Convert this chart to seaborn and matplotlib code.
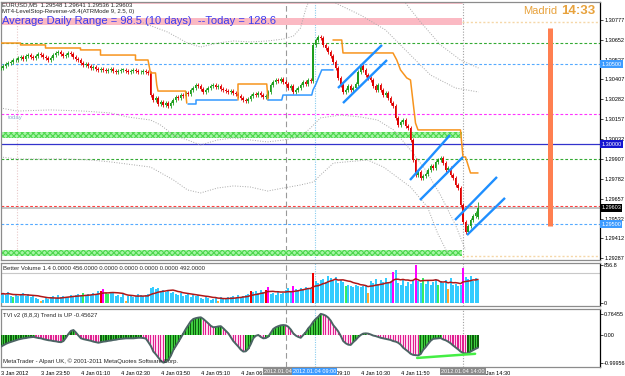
import numpy as np
import pandas as pd
import matplotlib
matplotlib.use("Agg")
import matplotlib.pyplot as plt
import matplotlib.transforms as mtransforms
import seaborn as sns

# ------------------------------------------------------------------
# DATA (EURUSD M5, 3-4 Jan 2012)
# ------------------------------------------------------------------
closes = [1.30477, 1.30490, 1.30502, 1.30508, 1.30515, 1.30527, 1.30527,
          1.30540, 1.30546, 1.30533, 1.30552, 1.30558, 1.30546, 1.30540, 1.30552, 1.30565, 1.30558, 1.30546, 1.30540, 1.30527,
          1.30540, 1.30558, 1.30571, 1.30577, 1.30565, 1.30552, 1.30558, 1.30571, 1.30565, 1.30546, 1.30533, 1.30527,
          1.30508, 1.30496, 1.30502, 1.30490, 1.30477, 1.30483, 1.30471, 1.30465,
          1.30471, 1.30465, 1.30458, 1.30465, 1.30471, 1.30458, 1.30452, 1.30458, 1.30465, 1.30465, 1.30458, 1.30452,
          1.30458, 1.30465, 1.30458, 1.30452, 1.30452, 1.30458, 1.30452,
          1.30446, 1.30308,
          1.30277, 1.30290, 1.30252, 1.30265, 1.30246, 1.30258, 1.30240,
          1.30258, 1.30277, 1.30296, 1.30290, 1.30308,
          1.30302, 1.30321, 1.30315, 1.30340, 1.30352, 1.30371, 1.30365,
          1.30346, 1.30327, 1.30340, 1.30352,
          1.30365, 1.30371, 1.30358, 1.30365,
          1.30346, 1.30340, 1.30333, 1.30327, 1.30333, 1.30321, 1.30315, 1.30302,
          1.30290, 1.30277, 1.30271, 1.30283,
          1.30302, 1.30315, 1.30308, 1.30321,
          1.30308, 1.30296, 1.30302, 1.30327,
          1.30371, 1.30390, 1.30402,
          1.30396, 1.30408, 1.30390, 1.30377, 1.30352, 1.30365,
          1.30327, 1.30340, 1.30352,
          1.30371, 1.30390, 1.30377, 1.30402, 1.30396,
          1.30621,
          1.30652, 1.30671, 1.30665,
          1.30621, 1.30602, 1.30577, 1.30552,
          1.30515, 1.30477,
          1.30415, 1.30371, 1.30327, 1.30340,
          1.30365, 1.30340, 1.30352, 1.30377,
          1.30452, 1.30490, 1.30465,
          1.30433, 1.30415, 1.30402,
          1.30365, 1.30340, 1.30371,
          1.30340, 1.30308, 1.30321,
          1.30290, 1.30258, 1.30240,
          1.30165, 1.30121, 1.30140,
          1.30152, 1.30115, 1.30102,
          1.30027, 1.29902,
          1.29808, 1.29827, 1.29790, 1.29802,
          1.29815, 1.29840, 1.29865, 1.29852,
          1.29890, 1.29902, 1.29915, 1.29883,
          1.29840, 1.29852, 1.29808,
          1.29790, 1.29746, 1.29727, 1.29621, 1.29515, 1.29452, 1.29490, 1.29527, 1.29552, 1.29571, 1.29603]
last_ohlc = [1.29548, 1.29641, 1.29536, 1.29603]
wick = 0.00010

# LevelStop-Reverse segments (bar index, price)
orange1_x = [0, 8, 8, 18, 18, 32, 32, 40, 40, 54, 54, 59, 60, 62, 62.5, 63, 74, 74.5]
orange1_y = [1.30633, 1.30633, 1.30621, 1.30621, 1.30602, 1.30602, 1.30590, 1.30590, 1.30558, 1.30558,
             1.30527, 1.30527, 1.30446, 1.30446, 1.30371, 1.30333, 1.30333, 1.30258]
blue1_x = [75, 78, 78, 94.5]
blue1_y = [1.30252, 1.30252, 1.30277, 1.30277]
orange2_x = [95, 95, 106.5, 107]
orange2_y = [1.30277, 1.30377, 1.30377, 1.30277]
blue2_x = [107, 112.5, 113, 124.5, 125, 126, 128.5, 133]
blue2_y = [1.30277, 1.30277, 1.30308, 1.30308, 1.30340, 1.30371, 1.30465, 1.30465]
orange3_x = [133, 136.5, 137, 157, 158.5, 160, 162.5, 164, 166, 167, 184, 185, 186, 188, 191]
orange3_y = [1.30652, 1.30652, 1.30571, 1.30571, 1.30527, 1.30465, 1.30415, 1.30402, 1.30133, 1.30090,
             1.30090, 1.29921, 1.29921, 1.29821, 1.29821]

# hand drawn trend channels
chan_x = [[135, 152.6], [137, 154.6], [163.8, 179.8], [167.8, 185], [181.8, 198.6], [186.6, 201.8]]
chan_y = [[1.30352, 1.30621], [1.30258, 1.30527], [1.29777, 1.30058], [1.29652, 1.29921],
          [1.29527, 1.29796], [1.29433, 1.29665]]

# dotted grey envelope curves
env_u1_x = [56, 66.8, 74.8, 80, 86.8, 93.2, 100, 106.8, 113.2, 117.2, 120, 122, 123.2]
env_u1_y = [1.30765, 1.30702, 1.30633, 1.30608, 1.30633, 1.30646, 1.30640, 1.30646, 1.30658, 1.30677,
            1.30727, 1.30840, 1.30890]
env_u2_x = [134, 144, 154, 164, 172, 182, 191.2]
env_u2_y = [1.30883, 1.30808, 1.30715, 1.30558, 1.30433, 1.30352, 1.30327]
env_u3_x = [162, 168, 176, 184, 191.2]
env_u3_y = [1.30883, 1.30765, 1.30621, 1.30527, 1.30477]
env_l1_x = [0, 6.8, 20, 33.2, 44, 50.8, 60, 64, 69.2, 74.8, 80, 86.8, 93.2, 100, 106.8, 113.2, 120, 124,
            128, 136, 144, 150.8, 157.2, 164, 170, 176, 182, 186]
env_l1_y = [1.30227, 1.30208, 1.30215, 1.30208, 1.30196, 1.30171, 1.30152, 1.30121, 1.30058, 1.30027,
            1.29996, 1.30027, 1.30040, 1.30027, 1.30015, 1.30027, 1.30046, 1.30102, 1.30165, 1.30183,
            1.30171, 1.30152, 1.30090, 1.29965, 1.29840, 1.29683, 1.29496, 1.29340]
env_l2_x = [0, 6.8, 26.8, 36, 44, 60, 69.2, 74.8, 80, 86.8, 93.2, 100, 106.8, 113.2, 120, 125.2, 128,
            133.2, 146.8, 153.2, 164, 170.8, 174.8, 178.8]
env_l2_y = [1.29921, 1.29908, 1.29908, 1.29902, 1.29890, 1.29858, 1.29777, 1.29715, 1.29696, 1.29727,
            1.29740, 1.29733, 1.29708, 1.29727, 1.29746, 1.29765, 1.29808, 1.29883, 1.29902, 1.29858,
            1.29733, 1.29608, 1.29446, 1.29321]

# horizontal levels
level_prices = [1.30631, 1.30500, 1.30190, 1.30000, 1.29908, 1.29615, 1.29500]
level_colors = ["#33AA33", "#55AAFF", "#FF33FF", "#3333CC", "#33AA33", "#FF4040", "#55AAFF"]
level_solid = [False, False, False, True, False, False, False]
bid_price = 1.29603
pink_band = [1.30746, 1.30790]
green_bands = [[1.30040, 1.30077], [1.29302, 1.29340]]
wheat_levels = [1.30767, 1.29302]
bands_end = 184.6
range_bar_x = 219.8
range_bar_y = [1.29490, 1.30727]

# vertical lines (bar index)
vline_x = [6.6, 114, 125.6, 185]
vline_colors = ["#E8C8C8", "#999999", "#88CCEE", "#A0A0A0"]
vline_styles = [(0, (1, 1.5)), (0, (5, 3)), (0, (1, 1.2)), (0, (1, 1.5))]
vbox_x = [114, 125.6, 185]
vbox_text = ["2012.01.04 08:00", "2012.01.04 09:00", "2012.01.04 14:00"]
vbox_colors = ["#8A8A8A", "#3D9BFF", "#8A8A8A"]

price_ticks = [1.30777, 1.30652, 1.30527, 1.30407, 1.30282, 1.30157, 1.30032,
               1.29907, 1.29782, 1.29657, 1.29532, 1.29412, 1.29287]
highlight_prices = [1.30500, 1.30000, 1.29603, 1.29500]
highlight_colors = ["#3D9BFF", "#1515D0", "#000000", "#3D9BFF"]

# labels fully hidden under the vertical-line boxes are left out
time_ticks = [0, 16, 32, 48, 64, 80, 96, 128, 144, 160, 192]
time_labels = ["3 Jan 2012", "3 Jan 23:50", "4 Jan 01:10", "4 Jan 02:30", "4 Jan 03:50", "4 Jan 05:10",
               "4 Jan 06:30", "4 Jan 09:10", "4 Jan 10:30", "4 Jan 11:50", "4 Jan 14:30"]

# Better Volume
volumes = [200, 225, 180, 250, 160, 135, 180, 160, 180, 225, 160, 200, 135, 180,
           110, 90, 45, 70, 110, 90,
           135, 160, 110, 180, 135, 160, 110, 135, 180, 160,
           180, 200, 160, 225, 180, 200, 180, 225, 200, 270,
           270, 315, 225, 200, 250, 225,
           160, 180, 135, 200, 45, 160, 180, 135, 160, 200, 180, 160, 180, 200,
           340, 360, 315, 340, 270, 290, 250, 270, 225, 250,
           200, 180, 225, 160, 180, 200, 135, 180, 160, 180,
           110, 90, 135, 110, 70, 90, 110, 45, 135, 110, 90, 135,
           135, 160, 110, 180, 135, 160, 180, 200,
           270, 250, 270, 225, 290, 250, 290, 360,
           200, 225, 180, 250, 200, 225, 290, 340, 270, 385, 315, 290,
           340, 315, 360, 340, 315, 675, 495, 450, 520,
           540, 470, 610, 560, 495, 585, 450, 520, 470, 385, 405,
           385, 360, 405, 385, 360, 385, 405, 225,
           495, 450, 540, 430, 520, 470, 560, 450, 495, 700, 745,
           450, 405, 520, 385, 470, 430, 495, 856.8,
           495, 450, 560, 430, 520, 405, 470, 540, 405, 495, 450, 520, 315,
           560, 405, 430, 385, 405, 790, 585, 540, 610, 495, 560, 520]
vol_green = [5, 33, 42, 43, 138, 169, 175]
vol_orange = [16, 50, 87, 147, 179]
vol_red = [40, 100, 106, 125]
vol_magenta = [41, 107, 117, 157, 166, 185]
vol_level = 675
vol_ticks = [0, 856.8]

# TVI histogram
tvi = [-0.42, -0.37, -0.32, -0.28, -0.25, -0.22, -0.19, -0.16, -0.14, -0.12, -0.11, -0.09, -0.08, -0.07,
       -0.09, -0.11, -0.12, -0.15, -0.17, -0.19, -0.20, -0.22, -0.23, -0.25, -0.26,
       -0.22, -0.10, 0.04, 0.15, 0.18,
       0.09, -0.02, -0.12, -0.15, -0.17, -0.19, -0.21, -0.24, -0.26, -0.28,
       -0.26, -0.24, -0.23, -0.21, -0.20, -0.18, -0.17, -0.15, -0.14, -0.13, -0.12, -0.12, -0.12, -0.12,
       -0.11, -0.10, -0.10, -0.11, -0.13,
       -0.26, -0.40, -0.60, -0.70, -0.82, -0.93, -0.99956,
       -0.97, -0.90, -0.75, -0.54, -0.40, -0.25, -0.10, 0.06, 0.22, 0.36, 0.50, 0.58, 0.61, 0.63, 0.64,
       0.58, 0.50, 0.42, 0.33, 0.28,
       0.29, 0.31, 0.32,
       0.24, 0.15, 0.06, -0.08, -0.22, -0.32, -0.42, -0.53, -0.60,
       -0.59,
       -0.50, -0.33, -0.12, -0.03, 0.00,
       -0.07, -0.12,
       -0.11, -0.06, 0.08, 0.22, 0.28, 0.32, 0.35, 0.36,
       0.35, 0.30, 0.20, 0.06, -0.02, -0.07, -0.10,
       0.00, 0.10, 0.24, 0.34, 0.48, 0.58, 0.66, 0.76455,
       0.74, 0.70, 0.63, 0.52, 0.36, 0.25, 0.13, -0.03, -0.22, -0.30, -0.35, -0.36,
       -0.26, -0.18, -0.08, 0.00, 0.05, 0.06,
       0.05, 0.02, -0.02, -0.04, -0.07, -0.10, -0.12, -0.14, -0.16, -0.18, -0.22, -0.24, -0.28, -0.35,
       -0.46, -0.53, -0.60, -0.68, -0.72, -0.73, -0.74,
       -0.69, -0.54, -0.44, -0.32, -0.21, -0.14, -0.13, -0.12, -0.11,
       -0.16, -0.19, -0.24, -0.30, -0.38, -0.45, -0.52, -0.60, -0.65, -0.67,
       -0.66, -0.60, -0.55, -0.50, -0.45627]
div_x = [166.6, 189.8]
div_y = [-0.83, -0.68]
tvi_ticks = [0.76455, 0.0, -0.99956]
tvi_ticklabels = ["0.76455", "0.00", "-0.99956"]

# ------------------------------------------------------------------
# STYLE
# ------------------------------------------------------------------
sns.set_theme(style="white")
plt.rcParams["font.family"] = ["Liberation Sans", "DejaVu Sans"]
plt.rcParams["hatch.linewidth"] = 0.8
SMALL = 4.3
AXLAB = 4.0
XLIM = (0.2, 239.8)

fig = plt.figure(figsize=(6.25, 3.76), dpi=100)
fig.patch.set_facecolor("white")
ax = fig.add_axes([1 / 625, 116 / 376, 599 / 625, 258 / 376])
axv = fig.add_axes([1 / 625, 70 / 376, 599 / 625, 43 / 376])
axt = fig.add_axes([1 / 625, 9 / 376, 599 / 625, 58 / 376])

for a in (ax, axv, axt):
    a.set_facecolor("white")
    a.set_xlim(*XLIM)
    for s in a.spines.values():
        s.set_color("#8C8C8C")
        s.set_linewidth(0.9)
    a.spines["right"].set_color("black")
    a.yaxis.tick_right()
    a.tick_params(axis="y", length=2, width=0.5, pad=1, labelsize=AXLAB, colors="black")
    for i, xv in enumerate(vline_x[1:], start=1):
        a.axvline(xv, color=vline_colors[i], lw=0.8, ls=vline_styles[i], zorder=1)

# ------------------------------------------------------------------
# MAIN PRICE PANEL
# ------------------------------------------------------------------
ax.set_ylim(1.29277, 1.308895)
ax.axvline(vline_x[0], color=vline_colors[0], lw=0.8, ls=vline_styles[0], zorder=1)

ax.fill_between([0, bands_end], pink_band[0], pink_band[1], color="#FBB9C3", lw=0, zorder=1)
ax.plot([0, bands_end], [1.30885, 1.30885], color="#FBB9C3", lw=1.2, zorder=1)
for lo_b, hi_b in green_bands:
    ax.fill_between([0, bands_end], lo_b, hi_b, facecolor="#A6F5A6", edgecolor="#4FD64F",
                    hatch="xxxxxx", lw=0, zorder=1)
for wl in wheat_levels:
    ax.plot([bands_end, XLIM[1]], [wl, wl], color="#F5D7A8", lw=1.0, ls=(0, (1.5, 1.5)), zorder=1)

for p, col, solid in zip(level_prices, level_colors, level_solid):
    ax.axhline(p, color=col, lw=0.8 if not solid else 0.9, ls="-" if solid else (0, (2.5, 1.8)), zorder=2)
ax.axhline(bid_price, color="#C4C4C4", lw=1.4, zorder=2)

grey = dict(color="#A8A8A8", lw=0.7, ls=(0, (1, 1.6)), zorder=2)
for ex, ey in [(env_u1_x, env_u1_y), (env_u2_x, env_u2_y), (env_u3_x, env_u3_y),
               (env_l1_x, env_l1_y), (env_l2_x, env_l2_y)]:
    ax.plot(ex, ey, **grey)

# candles
c = np.array(closes)
n = len(c)
idx = np.arange(n)
o = np.r_[c[0], c[:-1]]
o[-1] = last_ohlc[0]
hi = np.maximum(o, c) + wick
lo = np.minimum(o, c) - wick
hi[-1], lo[-1] = last_ohlc[1], last_ohlc[2]
cols = np.where(c >= o, "#1E9E1E", "#E00000")
ax.vlines(idx, lo, hi, colors=cols, lw=0.6, zorder=5)
ax.bar(idx, np.maximum(np.abs(c - o), 0.00003), bottom=np.minimum(o, c), width=0.72,
       color=cols, lw=0, zorder=6)

# stop lines
for sx, sy in [(orange1_x, orange1_y), (orange2_x, orange2_y), (orange3_x, orange3_y)]:
    ax.plot(sx, sy, color="#F7941D", lw=1.1, zorder=7)
for sx, sy in [(blue1_x, blue1_y), (blue2_x, blue2_y)]:
    ax.plot(sx, sy, color="#3399FF", lw=1.1, zorder=7)

for cx, cy in zip(chan_x, chan_y):
    ax.plot(cx, cy, color="#1E8FFF", lw=1.7, solid_capstyle="butt", zorder=8)

ax.vlines(range_bar_x, range_bar_y[0], range_bar_y[1], color="#FF7F50", lw=3.6, zorder=8)

ax.set_xticks([])
ax.set_yticks(price_ticks)
ax.set_yticklabels([f"{p:.5f}" for p in price_ticks])
ytr = ax.get_yaxis_transform()
for p, col in zip(highlight_prices, highlight_colors):
    ax.text(1.002, p, f"{p:.5f}", transform=ytr, ha="left", va="center", fontsize=AXLAB,
            color="white", bbox=dict(boxstyle="square,pad=0.25", fc=col, ec="none"),
            clip_on=False, zorder=20)

# ------------------------------------------------------------------
# BETTER VOLUME PANEL
# ------------------------------------------------------------------
vol = np.array(volumes, dtype=float)
vidx = np.arange(len(vol))
vcol = np.array(["#33CCFF"] * len(vol), dtype=object)
for ids, colr in [(vol_green, "#33EE66"), (vol_orange, "#FFAA33"), (vol_red, "#EE0000"),
                  (vol_magenta, "#FF00FF")]:
    vcol[ids] = colr
axv.set_ylim(-68, 902)
axv.axhline(vol_level, color="#C8C8C8", lw=0.8, zorder=1)
axv.bar(vidx, vol, width=0.8, color=list(vcol), lw=0, zorder=3)
vol_df = pd.DataFrame({"bar": vidx, "ma": pd.Series(vol).rolling(10, min_periods=1).mean()})
sns.lineplot(data=vol_df, x="bar", y="ma", ax=axv, color="#B01818", lw=1.1, legend=False, zorder=4)
axv.set_xlabel("")
axv.set_ylabel("")
axv.set_xlim(*XLIM)
axv.set_xticks([])
axv.set_yticks(vol_ticks)
axv.set_yticklabels(["0", "856.8"])

# ------------------------------------------------------------------
# TVI PANEL
# ------------------------------------------------------------------
tv = np.array(tvi)
tidx = np.arange(len(tv))
rising = np.r_[True, tv[1:] >= tv[:-1]]
light = np.where(rising, "#3FCF3F", "#FFD6F0")
dark = np.where(rising, "#0E5E0E", "#E0208F")
axt.set_ylim(-1.158, 0.941)
axt.bar(tidx, tv, width=1.0, color=list(light), lw=0, zorder=2)
axt.bar(tidx, tv, width=0.5, color=list(dark), lw=0, zorder=3)
tvi_df = pd.DataFrame({"bar": tidx, "tvi": tv})
sns.lineplot(data=tvi_df, x="bar", y="tvi", ax=axt, color="#4C6464", lw=1.4, legend=False, zorder=4)
axt.plot(div_x, div_y, color="#44EE44", lw=1.8, zorder=5)
axt.set_xlabel("")
axt.set_ylabel("")
axt.set_xlim(*XLIM)
axt.set_yticks(tvi_ticks)
axt.set_yticklabels(tvi_ticklabels)
axt.set_xticks(time_ticks)
axt.set_xticklabels(time_labels, ha="left")
axt.tick_params(axis="x", length=2, width=0.5, pad=1, labelsize=AXLAB, colors="black")

btr = mtransforms.blended_transform_factory(axt.transData, axt.transAxes)
for xv, txt, colr in zip(vbox_x, vbox_text, vbox_colors):
    axt.text(xv, -0.035, txt, transform=btr, ha="center", va="top", fontsize=AXLAB,
             color="white", bbox=dict(boxstyle="square,pad=0.2", fc=colr, ec="none"),
             clip_on=False, zorder=20)

# ------------------------------------------------------------------
# TEXT OVERLAYS
# ------------------------------------------------------------------
def fpos(x, y):
    return x / 625, 1 - y / 376

fig.text(*fpos(2, 5), "EURUSD,M5  " + " ".join(f"{v:.5f}" for v in last_ohlc),
         fontsize=SMALL, va="center", ha="left")
fig.text(*fpos(2, 12), "MT4-LevelStop-Reverse-v8.4(ATRMode 9, 2.5, 0)", fontsize=SMALL, va="center")
fig.text(*fpos(2, 21), "Average Daily Range = 98.5 (10 days)  --Today = 128.6", fontsize=8,
         color="#3B3BEF", va="center")
fig.text(*fpos(523, 11), "Madrid", fontsize=8, color="#E8A23C", va="center")
fig.text(*fpos(561, 11), "14:33", fontsize=9.5, color="#E8A23C", va="center", fontweight="bold")
fig.text(*fpos(8, 118), "today", fontsize=SMALL, color="#8EB0D0", va="center")
fig.text(*fpos(3, 269), "Better Volume 1.4 0.0000 456.0000 0.0000 0.0000 0.0000 0.0000 492.0000",
         fontsize=SMALL, va="center")
fig.text(*fpos(3, 316), "TVI v2 (8,8,3) Trend is UP -0.45627", fontsize=SMALL, va="center")
fig.text(*fpos(3, 361), "MetaTrader - Alpari UK, \u00a9 2001-2011 MetaQuotes Software Corp.",
         fontsize=SMALL, va="center")

fig.savefig("out.png", dpi=100, facecolor="white")
